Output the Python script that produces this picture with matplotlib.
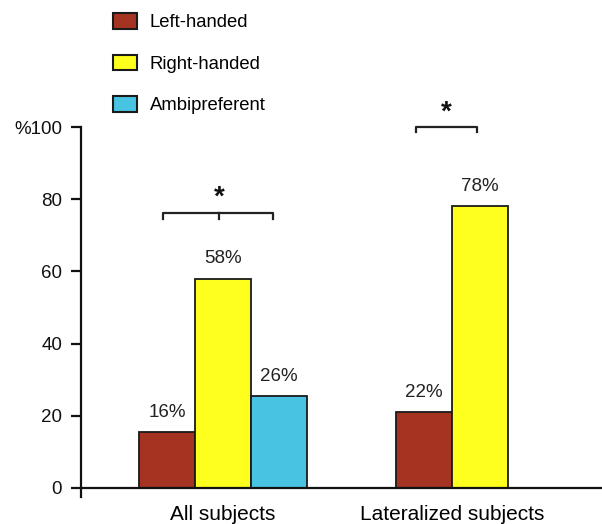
import numpy as np
import matplotlib
matplotlib.use("Agg")
import matplotlib.pyplot as plt
from matplotlib.patches import Patch

plt.rcParams["font.family"] = ["Liberation Sans", "DejaVu Sans"]

GROUPS = ["All subjects", "Lateralized subjects"]
SERIES = ["Left-handed", "Right-handed", "Ambipreferent"]
COLORS = ["#A53322", "#FFFF1E", "#48C4E2"]

# bar heights per group (Left, Right, Ambi)
ALL_VALUES = [15.5, 58, 25.5]
ALL_LABELS = ["16%", "58%", "26%"]
LAT_VALUES = [21, 78]
LAT_LABELS = ["22%", "78%"]

YTICKS = [0, 20, 40, 60, 80, 100]
YTICKLABELS = ["0", "20", "40", "60", "80", "%100"]

W, H = 602, 524
fig = plt.figure(figsize=(W / 100, H / 100), dpi=100)
ax = fig.add_axes([81 / W, 27 / H, 521 / W, 370 / H])

group_pos = [2.55, 6.66]
edge = "#1a1a1a"


def draw_group(center, values, labels):
    n = len(values)
    xs = center + np.arange(n) - (n - 1) / 2
    bars = ax.bar(xs, values, width=1.0, color=COLORS[:n], edgecolor=edge,
                  linewidth=1.3, zorder=3)
    for b, lab in zip(bars, labels):
        ax.annotate(lab, (b.get_x() + b.get_width() / 2, b.get_height()),
                    textcoords="offset points", xytext=(0, 8),
                    ha="center", va="bottom", fontsize=13.5, color="#222222")
    return xs


xs_all = draw_group(group_pos[0], ALL_VALUES, ALL_LABELS)
xs_lat = draw_group(group_pos[1], LAT_VALUES, LAT_LABELS)


def bracket(x0, x1, y, mid=None, star_y=None):
    tick = 1.5
    kw = dict(color="#222222", lw=1.6, clip_on=False, zorder=4)
    ax.plot([x0, x0, x1, x1], [y - tick, y, y, y - tick], **kw)
    if mid is not None:
        ax.plot([mid, mid], [y, y - tick], **kw)
    cx = mid if mid is not None else (x0 + x1) / 2
    ax.text(cx, star_y, "*", ha="center", va="center", fontsize=20,
            fontweight="bold", color="#111111", clip_on=False)


bracket(xs_all[0] - 0.07, xs_all[-1] - 0.1, 76.1, mid=xs_all[1] - 0.07, star_y=80.5)
bracket(xs_lat[0] - 0.15, xs_lat[-1] - 0.05, 100.1, star_y=104.0)

ax.set_xlim(0, 521 / 55.7)
ax.set_ylim(-2.5, 100)
ax.axhline(0, color="#111111", lw=1.6, zorder=5)
for s in ["top", "right", "bottom"]:
    ax.spines[s].set_visible(False)
ax.spines["left"].set_linewidth(1.6)
ax.spines["left"].set_color("#111111")
ax.set_yticks(YTICKS)
ax.set_yticklabels(YTICKLABELS, fontsize=13.5)
ax.tick_params(axis="y", length=7, width=1.6, pad=6.5, colors="#111111")
ax.set_xticks(group_pos)
ax.set_xticklabels(GROUPS, fontsize=15)
ax.tick_params(axis="x", length=0, pad=6)

handles = [Patch(facecolor=c, edgecolor=edge, linewidth=1.5) for c in COLORS]
fig.legend(handles, SERIES, loc="upper left", bbox_to_anchor=(113 / W, 1 - 13 / H),
           frameon=False, fontsize=13.3, handlelength=1.3, handleheight=0.92,
           handletextpad=0.7, labelspacing=1.27, borderpad=0, borderaxespad=0)

fig.savefig("out.png", dpi=100)
